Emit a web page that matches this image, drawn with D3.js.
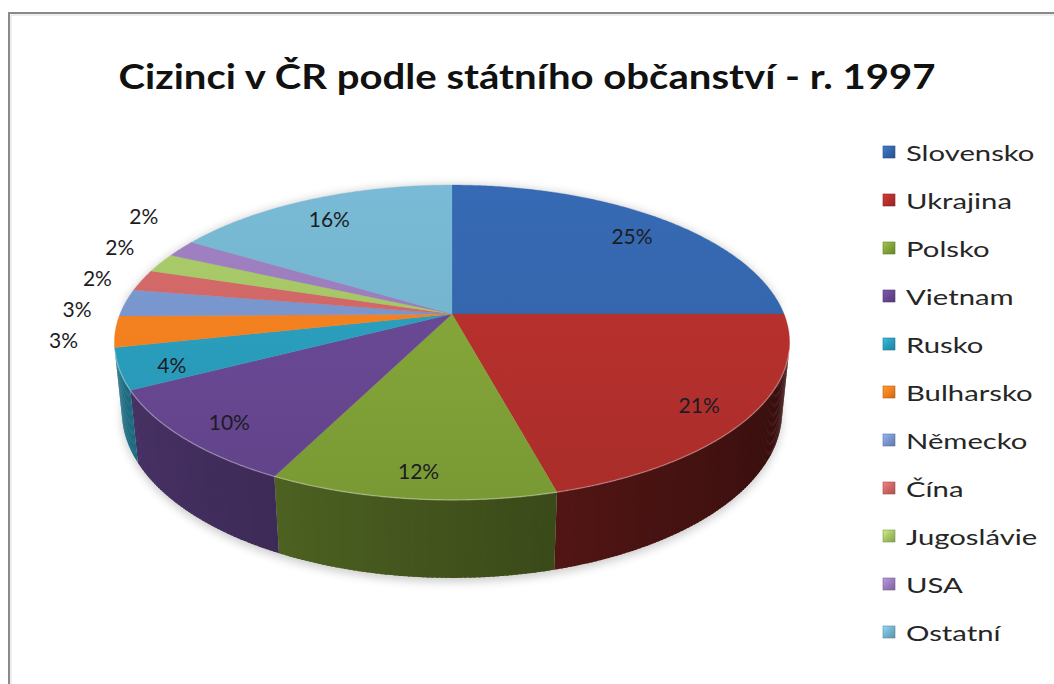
<!DOCTYPE html>
<html>
<head>
<meta charset="utf-8">
<script src="https://cdn.jsdelivr.net/npm/d3@7"></script>
<style>
  body { margin: 0; background: #fff; }
  svg { display: block; }
</style>
</head>
<body>
<svg id="chart" width="1054" height="684"></svg>
<script>
// Foreign residents of the Czech Republic by citizenship, 1997 (share of total, %)
const categories = ["Slovensko", "Ukrajina", "Polsko", "Vietnam", "Rusko", "Bulharsko",
                    "Německo", "Čína", "Jugoslávie", "USA", "Ostatní"];
const shares = [25.0, 20.8, 11.6, 10.0, 4.2, 3.2, 2.8, 2.2, 2.0, 1.8, 16.4];
const colors = ["#3466ac", "#b5302d", "#82a438", "#684893", "#2a9dbc", "#f2801f",
                "#7895cd", "#cf6766", "#a5c566", "#9a7dbd", "#74b3cd"];
const titleText = "Cizinci v ČR podle státního občanství - r. 1997";

const FONT = "Lato, 'Open Sans', 'DejaVu Sans', sans-serif";
const svg = d3.select("#chart");
const defs = svg.append("defs");

// chart-area frame (only top and left edges fall inside the canvas)
svg.append("path")
  .attr("d", "M9,684 L9,13 L1054,13")
  .attr("fill", "none").attr("stroke", "#8a8a8a").attr("stroke-width", 2);
svg.append("path")
  .attr("d", "M11,684 L11,15 L1054,15")
  .attr("fill", "none").attr("stroke", "#dcdcdc").attr("stroke-width", 1);

// ---- title ----
svg.append("text")
  .attr("x", 527).attr("y", 89)
  .attr("text-anchor", "middle")
  .attr("font-family", FONT).attr("font-weight", "bold").attr("font-size", 35)
  .attr("fill", "#111")
  .attr("textLength", 817).attr("lengthAdjust", "spacingAndGlyphs")
  .text(titleText);

// ---- perspective projection of a tilted disc ----
const cx = 452, cy = 314;
const tilt = 27.3 * Math.PI / 180;
const sinT = Math.sin(tilt), cosT = Math.cos(tilt);
const radius = 0.2037;     // disc radius relative to camera distance
const focal = 1630;
const thickness = 0.0481;  // disc height

// theta: clockwise from the far side; t: radial fraction; h: 0 on top face, -thickness at bottom
function project(theta, t, h) {
  const X = radius * t * Math.sin(theta);
  const Z = -radius * t * Math.cos(theta);
  const v = Z * sinT - h * cosT;
  const d = 1 - Z * cosT - h * sinT;
  return [cx + focal * X / d, cy + focal * v / d];
}

const pie = d3.pie().sort(null).value(d => d);
const arcs = pie(shares);
const line = d3.line();

function arcPoints(a0, a1, t, h) {
  const n = Math.max(2, Math.ceil((a1 - a0) / 0.01));
  return d3.range(n + 1).map(i => project(a0 + (a1 - a0) * i / n, t, h));
}

// the outer wall faces the camera where cos(theta) < -radius / cosT
const visLimit = Math.acos(-radius / cosT);
const visA = visLimit, visB = 2 * Math.PI - visLimit;

// ---- soft shadow under the pie ----
const shadowF = defs.append("filter").attr("id", "shadow")
  .attr("x", "-20%").attr("y", "-20%").attr("width", "140%").attr("height", "140%");
shadowF.append("feGaussianBlur").attr("stdDeviation", 5);
const bottomRim = arcPoints(visA - 0.3, visB + 0.3, 1.0, -thickness).map(p => [p[0], p[1] + 4]);
const topRimBack = arcPoints(visB + 0.3, visA - 0.3 + 2 * Math.PI, 1.0, 0);
svg.append("path")
  .attr("d", line(bottomRim.concat(topRimBack)) + "Z")
  .attr("fill", "#000").attr("opacity", 0.2)
  .attr("filter", "url(#shadow)");

// ---- outer walls (thin overlapping strips, shaded by facing direction) ----
const wallG = svg.append("g");
arcs.forEach((a, i) => {
  const a0 = Math.max(a.startAngle, visA), a1 = Math.min(a.endAngle, visB);
  if (a1 <= a0) return;
  const n = Math.max(1, Math.ceil((a1 - a0) / 0.012));
  const base = d3.rgb(colors[i]);
  for (let k = 0; k < n; k++) {
    const t0 = a0 + (a1 - a0) * k / n;
    const t1 = Math.min(a1, a0 + (a1 - a0) * (k + 1) / n + 0.006);
    const mid = (t0 + t1) / 2;
    const f = 0.5 - 0.2 * Math.sin(mid);
    const c = d3.rgb(base.r * f, base.g * f, base.b * f).formatHex();
    const pts = [project(t0, 1, 0), project(t1, 1, 0), project(t1, 1, -thickness), project(t0, 1, -thickness)];
    wallG.append("path").attr("d", line(pts) + "Z").attr("fill", c);
  }
});

// ---- top faces ----
const topG = svg.append("g");
const centre = project(0, 0, 0);
arcs.forEach((a, i) => {
  const id = "top" + i;
  const base = d3.color(colors[i]);
  const g = defs.append("linearGradient").attr("id", id)
    .attr("gradientUnits", "userSpaceOnUse")
    .attr("x1", 0).attr("y1", 185).attr("x2", 0).attr("y2", 500);
  g.append("stop").attr("offset", 0).attr("stop-color", base.brighter(0.12).formatHex());
  g.append("stop").attr("offset", 0.5).attr("stop-color", base.formatHex());
  g.append("stop").attr("offset", 1).attr("stop-color", base.darker(0.2).formatHex());
  const pts = [centre].concat(arcPoints(a.startAngle, a.endAngle, 1, 0));
  topG.append("path").attr("d", line(pts) + "Z")
    .attr("fill", `url(#${id})`)
    .attr("stroke", base.formatHex()).attr("stroke-width", 0.5).attr("stroke-opacity", 0.6);
});

// light bevel along the front rim
svg.append("path")
  .attr("d", line(arcPoints(visA, visB, 1, 0)))
  .attr("fill", "none").attr("stroke", "#fff").attr("stroke-opacity", 0.3).attr("stroke-width", 1.4);

// ---- data labels ----
const fmt = v => Math.round(v) + "%";
const labelG = svg.append("g")
  .attr("font-family", FONT).attr("font-size", 21).attr("fill", "#1c1c24");
const inside = [], outside = [];
arcs.forEach((a, i) => {
  const mid = (a.startAngle + a.endAngle) / 2;
  if (shares[i] >= 4) inside.push({ i, p: project(mid, 0.85, 0) });
  else outside.push({ i, p: project(mid, 1.15, 0) });
});
inside.forEach(d => {
  labelG.append("text").attr("x", d.p[0]).attr("y", d.p[1] + 4)
    .attr("text-anchor", "middle").attr("dominant-baseline", "central")
    .text(fmt(shares[d.i]));
});
// spread the small-slice labels vertically so they do not collide
outside.sort((a, b) => a.p[1] - b.p[1]);
const gap = 31;
const meanY = d3.mean(outside, d => d.p[1]) - 4;
outside.forEach((d, k) => {
  const y = meanY + (k - (outside.length - 1) / 2) * gap;
  labelG.append("text").attr("x", d.p[0]).attr("y", y)
    .attr("text-anchor", "middle").attr("dominant-baseline", "central")
    .text(fmt(shares[d.i]));
});

// ---- legend ----
const legend = svg.append("g").attr("font-family", FONT).attr("font-size", 22).attr("fill", "#262626");
categories.forEach((name, i) => {
  const y = 152 + i * 48;
  const gid = "leg" + i;
  const base = d3.color(colors[i]);
  const g = defs.append("linearGradient").attr("id", gid)
    .attr("x1", 0).attr("y1", 0).attr("x2", 1).attr("y2", 1);
  g.append("stop").attr("offset", 0).attr("stop-color", base.brighter(0.6).formatHex());
  g.append("stop").attr("offset", 0.5).attr("stop-color", base.formatHex());
  g.append("stop").attr("offset", 1).attr("stop-color", base.darker(0.6).formatHex());
  legend.append("rect").attr("x", 883).attr("y", y - 6).attr("width", 12).attr("height", 12)
    .attr("fill", `url(#${gid})`).attr("stroke", base.darker(0.8).formatHex()).attr("stroke-width", 0.6);
  const txt = legend.append("text").attr("x", 906).attr("y", y)
    .attr("dominant-baseline", "central").text(name);
  // wider set of the legend face
  const w = txt.node().getComputedTextLength();
  txt.attr("textLength", w * 1.33).attr("lengthAdjust", "spacingAndGlyphs");
});
</script>
</body>
</html>
